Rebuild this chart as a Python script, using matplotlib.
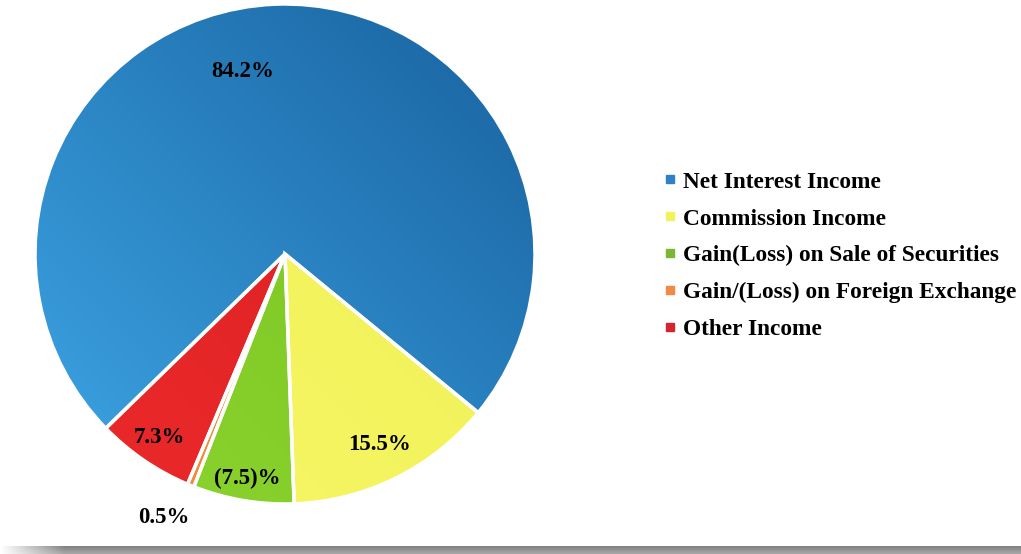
import numpy as np
import matplotlib.pyplot as plt
from matplotlib.colors import to_rgb
from matplotlib.lines import Line2D

plt.rcParams['font.family'] = ['Liberation Serif', 'DejaVu Serif']
plt.rcParams['font.weight'] = 'bold'

# data
categories = ['Net Interest Income', 'Commission Income',
              'Gain(Loss) on Sale of Securities',
              'Gain/(Loss) on Foreign Exchange', 'Other Income']
values = [84.2, 15.5, -7.5, 0.5, 7.3]
labels = ['84.2%', '15.5%', '(7.5)%', '0.5%', '7.3%']

# colours: light (lower left) / dark (upper right) of each slice
light = ['#3ea6e6', '#f8f86a', '#8cd42e', '#f39040', '#ec2a2a']
dark = ['#18619e', '#eeee50', '#78c020', '#e87828', '#d81e22']
legend_cols = ['#2f80c4', '#f2f25a', '#7ab834', '#f08a44', '#d42432']

# label placement (radius, angle shift in degrees)
lab_r = [0.75, 0.85, 0.91, 1.16, 0.89]
lab_shift = [10.5, 0, 0, -2.5, 0]

fig = plt.figure(figsize=(10.21, 5.54), dpi=100)
ax = fig.add_axes([35 / 1021, 50 / 554, 500 / 1021, 500 / 554])

sizes = np.abs(values)
wedges, _ = ax.pie(sizes, startangle=224.2, counterclock=False,
                   wedgeprops=dict(edgecolor='white', linewidth=2.5))

# gradient fill clipped to each wedge
n = 300
gx, gy = np.meshgrid(np.linspace(-1, 1, n), np.linspace(-1, 1, n))
t = np.clip(((gx + gy) / 2 + 1) / 2, 0, 1)[..., None]
for w, c1, c2 in zip(wedges, light, dark):
    img = np.array(to_rgb(c1)) * (1 - t) + np.array(to_rgb(c2)) * t
    im = ax.imshow(img, extent=(-1, 1, -1, 1), origin='lower', zorder=2)
    im.set_clip_path(w)
    w.set_facecolor('none')
    w.set_zorder(3)

for w, lab, r, sh in zip(wedges, labels, lab_r, lab_shift):
    a = np.deg2rad((w.theta1 + w.theta2) / 2 + sh)
    ax.text(r * np.cos(a), r * np.sin(a), lab, ha='center', va='center',
            fontsize=16.5, fontweight='bold', color='black', zorder=5)

ax.set_xlim(-1.0, 1.0)
ax.set_ylim(-1.0, 1.0)
ax.set_aspect('equal')
ax.axis('off')

handles = [Line2D([], [], marker='s', linestyle='none', markersize=5.5,
                  markerfacecolor=c, markeredgecolor=c) for c in legend_cols]
fig.legend(handles, categories, loc='upper left',
           bbox_to_anchor=(655 / 1021, 1 - 162 / 554), frameon=False,
           prop=dict(size=16.8, weight='bold'), handlelength=0.5,
           handletextpad=0.3, labelspacing=0.665, borderaxespad=0)

# grey shadow band at the bottom
sax = fig.add_axes([0, 0, 1, 8 / 554])
band = np.linspace(0.50, 0.66, 20)[:, None] * np.ones((1, 400))
fade = np.clip(np.linspace(0, 1, 400) * 400 / 25, 0, 1)
rgb = np.dstack([band] * 3)
alpha = np.ones_like(band) * fade[None, :]
sax.imshow(np.dstack([rgb, alpha]), aspect='auto', extent=(0, 1, 0, 1))
sax.axis('off')

fig.savefig('out.png', dpi=100)
